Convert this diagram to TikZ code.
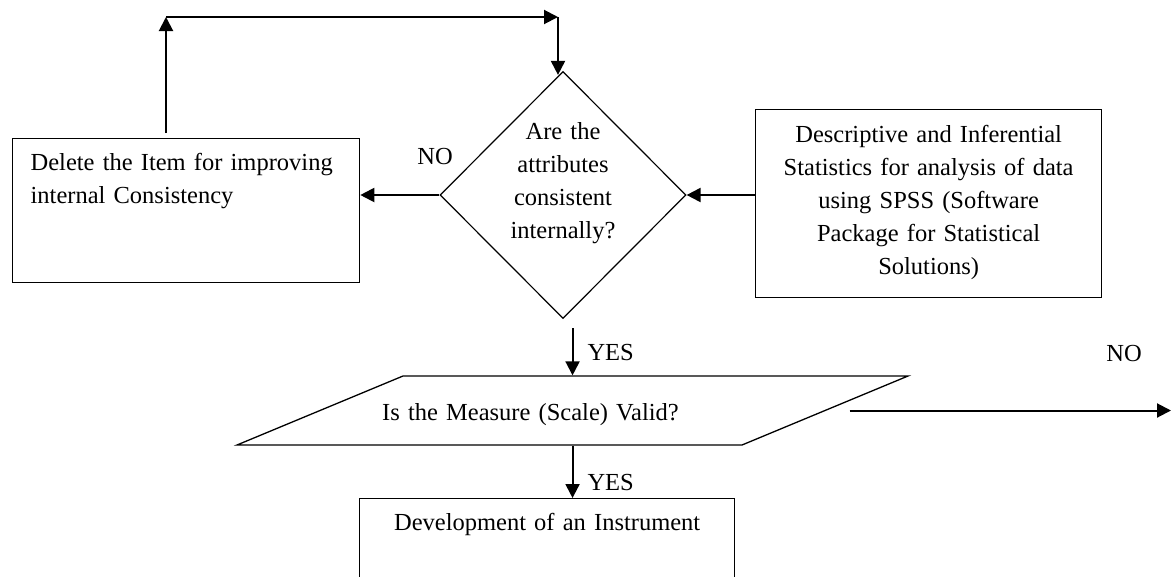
\documentclass[tikz,border=0pt]{standalone}
\usepackage{fontspec}
\setmainfont{Liberation Serif}
\usetikzlibrary{shapes.geometric,arrows.meta}
\begin{document}
\begin{tikzpicture}[x=1pt,y=-1pt,
  font=\fontsize{24.5}{33}\selectfont,
  box/.style={draw, line width=1.3pt, inner sep=0pt, anchor=north west},
  arr/.style={line width=2pt, -{Triangle[length=14pt,width=14pt]}},
  lbl/.style={inner sep=0pt}]
\useasboundingbox (0,0) rectangle (1172,576);
\node[box, inner xsep=18pt, text width=311pt, text height=32pt, text depth=112pt, align=left] (del) at (12,138) {Delete the Item for improving\\ internal Consistency};
\node[draw, diamond, line width=1.2pt, minimum width=246pt, minimum height=247pt, inner sep=0pt, text width=108pt, text height=10pt, text depth=121pt, align=center] (dia) at (563,195) {Are the\\ attributes\\ consistent\\ internally?};
\node[box, text width=346pt, text height=33pt, text depth=155pt, align=center] (stats) at (755,109) {Descriptive and Inferential\\ Statistics for analysis of data\\ using SPSS (Software\\ Package for Statistical\\ Solutions)};
\node[draw, trapezium, trapezium left angle=22.57, trapezium right angle=157.43, line width=1.3pt, inner sep=0pt, text width=339pt, text height=44pt, text depth=25pt, align=center] (valid) at (572.5,410.5) {\hspace*{-84pt}Is the Measure (Scale) Valid?};
\node[box, text width=375pt, text height=32pt, text depth=60pt, align=center] (dev) at (359,498) {Development of an Instrument};
\node[lbl] (noleft) at (435,157) {NO};
\node[lbl] (noright) at (1124,354) {NO};
\coordinate (c1) at (166,17);
\coordinate (c2) at (558,17);
\coordinate (exit) at (1171,410);
% loop back
\draw[arr, shorten <=5pt] (del.north -| c1) -- (c1);
\draw[arr] (c1) -- (c2);
\draw[arr, shorten >=-4pt] (c2) -- (c2 |- dia.north);
\draw[arr] (dia.east -| stats.west) -- (dia.east);
\draw[arr] (dia.west) -- (dia.west -| del.east);
\draw[arr, shorten <=9pt] (valid.north |- dia.south) -- (valid.north) node[lbl, pos=.6, right=14pt] {YES};
\draw[arr] (valid.south) -- (valid.south |- dev.north) node[lbl, pos=.7, right=14pt] {YES};
\draw[arr, shorten <=23pt] (valid.east) -- (valid.east -| exit);
\end{tikzpicture}
\end{document}
